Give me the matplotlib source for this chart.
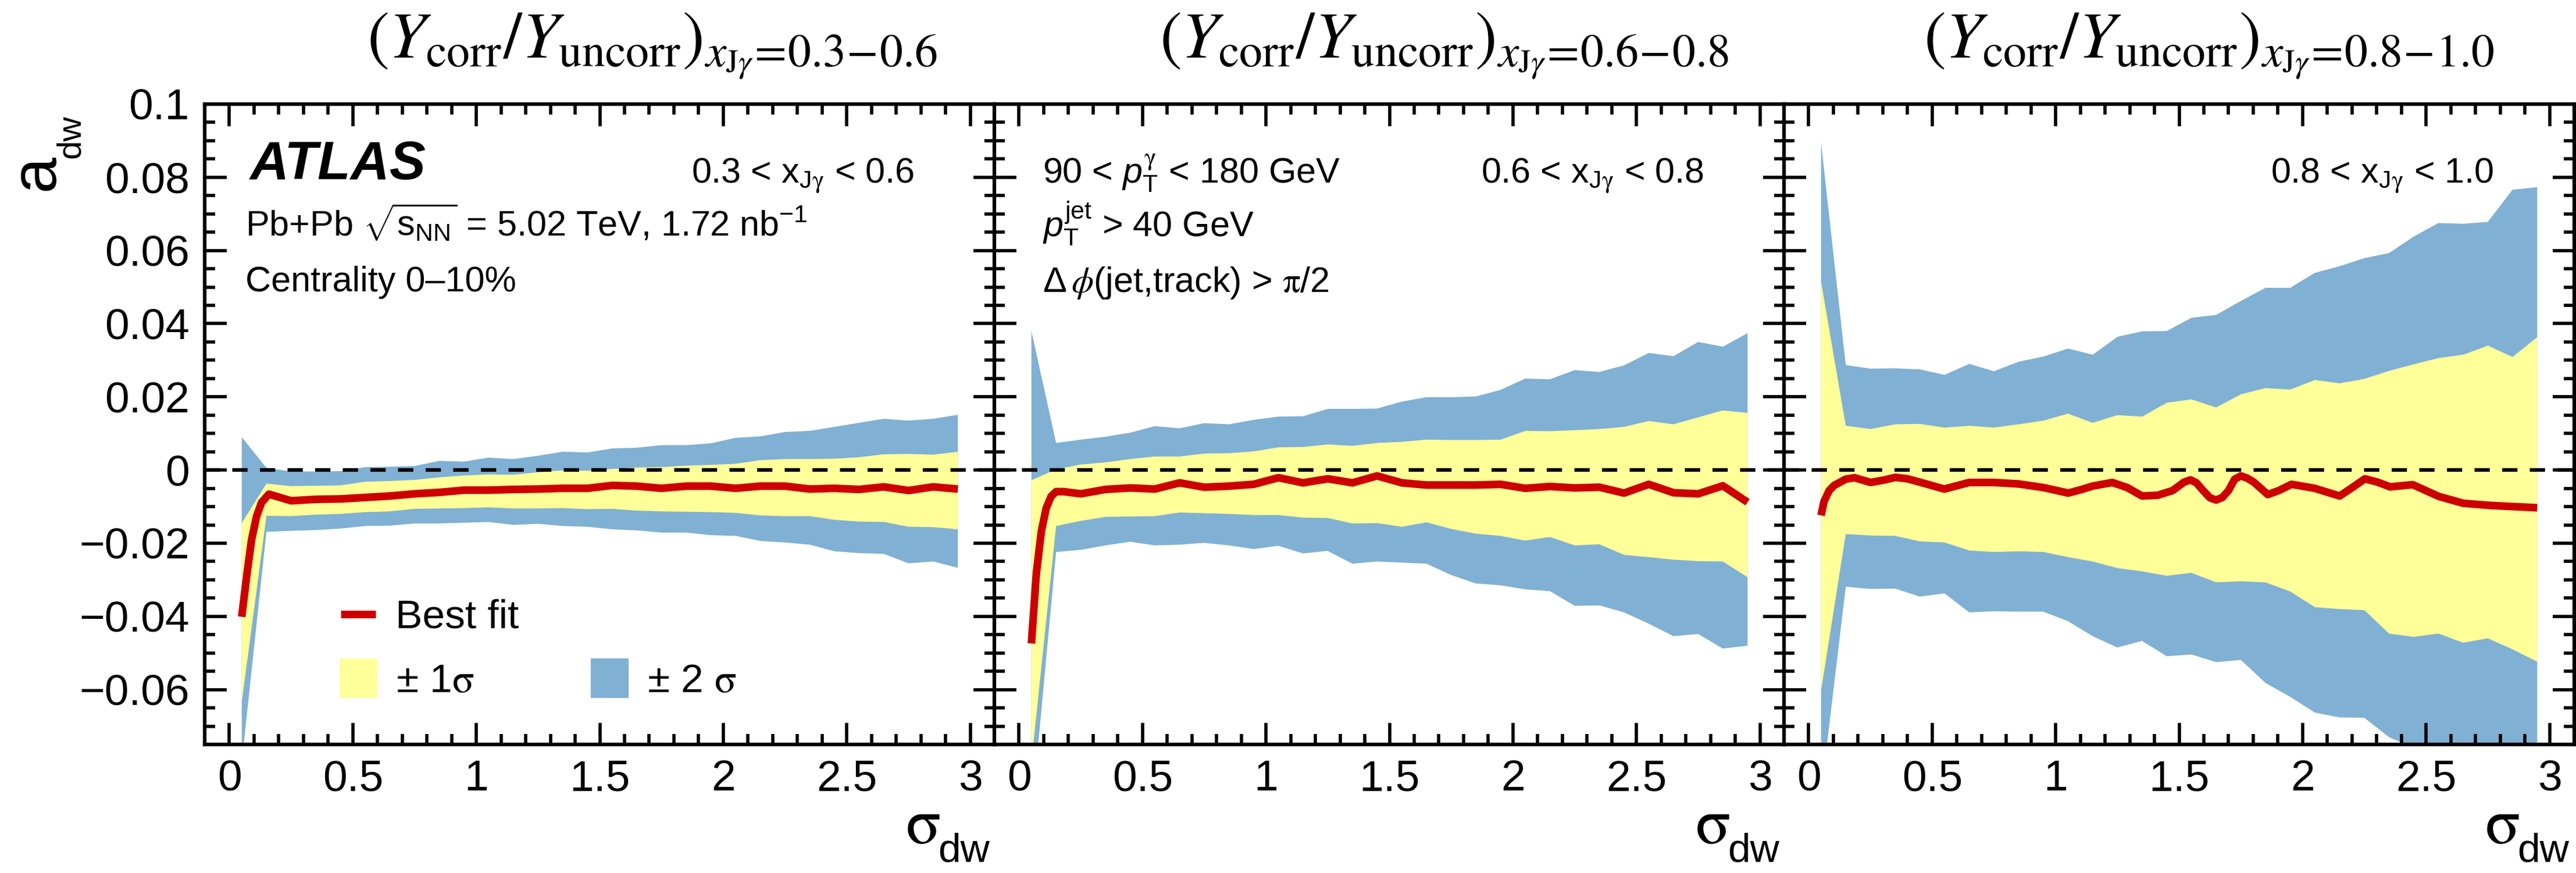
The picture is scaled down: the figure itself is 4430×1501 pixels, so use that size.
import numpy as np
import matplotlib
matplotlib.use('Agg')
import matplotlib.pyplot as plt
from matplotlib.ticker import FixedLocator, FixedFormatter, MultipleLocator

plt.rcParams['font.family'] = ['Liberation Sans', 'DejaVu Sans']
plt.rcParams['mathtext.fontset'] = 'custom'
plt.rcParams['mathtext.rm'] = 'Liberation Sans'
plt.rcParams['mathtext.it'] = 'Liberation Sans:italic'
plt.rcParams['mathtext.bf'] = 'Liberation Sans:bold'
plt.rcParams['mathtext.cal'] = 'STIXGeneral'
plt.rcParams['mathtext.tt'] = 'STIXGeneral:italic'

# ---------------- data ----------------
x_nodes = [0.05, 0.15, 0.25, 0.35, 0.45, 0.55, 0.65, 0.75, 0.85, 0.95,
           1.05, 1.15, 1.25, 1.35, 1.45, 1.55, 1.65, 1.75, 1.85, 1.95,
           2.05, 2.15, 2.25, 2.35, 2.45, 2.55, 2.65, 2.75, 2.85, 2.95]

# panel 1 : 0.3 < xJg < 0.6
p1_hi2 = [0.0090, 0.0006, -0.0004, -0.0004, -0.0003, 0.0008, 0.0009, 0.0011, 0.0025, 0.0023,
          0.0034, 0.0030, 0.0039, 0.0050, 0.0048, 0.0059, 0.0061, 0.0068, 0.0068, 0.0073,
          0.0088, 0.0092, 0.0104, 0.0107, 0.0118, 0.0129, 0.0140, 0.0135, 0.0140, 0.0151]
p1_hi1 = [-0.0145, -0.0037, -0.0044, -0.0043, -0.0042, -0.0032, -0.0030, -0.0027, -0.0020, -0.0015,
          -0.0012, -0.0013, -0.0006, -0.0001, -0.0002, 0.0003, 0.0007, 0.0008, 0.0012, 0.0014,
          0.0017, 0.0027, 0.0030, 0.0030, 0.0031, 0.0035, 0.0043, 0.0044, 0.0042, 0.0050]
p1_lo1 = [-0.0635, -0.0125, -0.0126, -0.0122, -0.0120, -0.0115, -0.0113, -0.0106, -0.0105, -0.0104,
          -0.0102, -0.0105, -0.0105, -0.0104, -0.0107, -0.0106, -0.0111, -0.0113, -0.0114, -0.0115,
          -0.0117, -0.0124, -0.0126, -0.0126, -0.0136, -0.0141, -0.0142, -0.0155, -0.0156, -0.0162]
p1_lo2 = [-0.0800, -0.0169, -0.0166, -0.0164, -0.0160, -0.0153, -0.0152, -0.0146, -0.0146, -0.0144,
          -0.0142, -0.0150, -0.0147, -0.0153, -0.0155, -0.0162, -0.0165, -0.0171, -0.0171, -0.0178,
          -0.0180, -0.0194, -0.0198, -0.0204, -0.0222, -0.0227, -0.0229, -0.0255, -0.0250, -0.0267]
p1_fit_x = [0.05, 0.07, 0.09, 0.11, 0.13, 0.16, 0.25, 0.35, 0.45, 0.55, 0.65, 0.75, 0.85, 0.95,
            1.05, 1.15, 1.25, 1.35, 1.45, 1.55, 1.65, 1.75, 1.85, 1.95, 2.05, 2.15, 2.25, 2.35,
            2.45, 2.55, 2.65, 2.75, 2.85, 2.95]
p1_fit_y = [-0.0401, -0.0290, -0.0190, -0.0127, -0.0089, -0.0066, -0.0084, -0.0080, -0.0079, -0.0075,
            -0.0071, -0.0065, -0.0061, -0.0055, -0.0055, -0.0053, -0.0052, -0.0050, -0.0050, -0.0042,
            -0.0044, -0.0050, -0.0044, -0.0044, -0.0050, -0.0044, -0.0044, -0.0052, -0.0050, -0.0053,
            -0.0046, -0.0056, -0.0046, -0.0052]

# panel 2 : 0.6 < xJg < 0.8
p2_hi2 = [0.0380, 0.0074, 0.0083, 0.0091, 0.0102, 0.0120, 0.0114, 0.0128, 0.0125, 0.0137,
          0.0146, 0.0147, 0.0167, 0.0167, 0.0168, 0.0187, 0.0199, 0.0199, 0.0201, 0.0219,
          0.0250, 0.0248, 0.0273, 0.0268, 0.0286, 0.0320, 0.0311, 0.0350, 0.0337, 0.0374]
p2_hi1 = [-0.0028, 0.0002, 0.0015, 0.0021, 0.0030, 0.0037, 0.0037, 0.0045, 0.0046, 0.0051,
          0.0062, 0.0063, 0.0070, 0.0066, 0.0074, 0.0077, 0.0083, 0.0082, 0.0082, 0.0083,
          0.0107, 0.0106, 0.0109, 0.0112, 0.0118, 0.0134, 0.0125, 0.0144, 0.0163, 0.0156]
p2_lo1 = [-0.0800, -0.0153, -0.0139, -0.0128, -0.0127, -0.0126, -0.0116, -0.0118, -0.0120, -0.0123,
          -0.0123, -0.0130, -0.0131, -0.0146, -0.0145, -0.0155, -0.0143, -0.0161, -0.0174, -0.0180,
          -0.0193, -0.0183, -0.0206, -0.0203, -0.0232, -0.0238, -0.0245, -0.0249, -0.0250, -0.0293]
p2_lo2 = [-0.0950, -0.0224, -0.0218, -0.0206, -0.0196, -0.0206, -0.0204, -0.0199, -0.0206, -0.0216,
          -0.0207, -0.0228, -0.0221, -0.0256, -0.0250, -0.0253, -0.0256, -0.0287, -0.0310, -0.0315,
          -0.0326, -0.0331, -0.0371, -0.0370, -0.0389, -0.0420, -0.0454, -0.0448, -0.0488, -0.0480]
p2_fit_x = [0.05, 0.07, 0.09, 0.11, 0.13, 0.15, 0.18, 0.25, 0.35, 0.45, 0.55, 0.65, 0.75, 0.85,
            0.95, 1.05, 1.15, 1.25, 1.35, 1.45, 1.55, 1.65, 1.75, 1.85, 1.95, 2.05, 2.15, 2.25,
            2.35, 2.45, 2.55, 2.65, 2.75, 2.85, 2.95]
p2_fit_y = [-0.0474, -0.0283, -0.0169, -0.0104, -0.0072, -0.0059, -0.0059, -0.0065, -0.0053, -0.0049,
            -0.0052, -0.0035, -0.0047, -0.0044, -0.0039, -0.0021, -0.0035, -0.0024, -0.0035, -0.0016,
            -0.0035, -0.0041, -0.0041, -0.0041, -0.0039, -0.0050, -0.0045, -0.0049, -0.0047, -0.0063,
            -0.0039, -0.0062, -0.0065, -0.0043, -0.0088]

# panel 3 : 0.8 < xJg < 1.0
p3_hi2 = [0.0895, 0.0287, 0.0277, 0.0278, 0.0275, 0.0260, 0.0290, 0.0270, 0.0296, 0.0310,
          0.0332, 0.0315, 0.0364, 0.0379, 0.0380, 0.0416, 0.0424, 0.0462, 0.0498, 0.0498,
          0.0539, 0.0557, 0.0579, 0.0593, 0.0638, 0.0675, 0.0673, 0.0678, 0.0766, 0.0773]
p3_hi1 = [0.0515, 0.0121, 0.0112, 0.0125, 0.0126, 0.0116, 0.0121, 0.0116, 0.0125, 0.0135,
          0.0154, 0.0129, 0.0150, 0.0146, 0.0184, 0.0193, 0.0171, 0.0207, 0.0224, 0.0220,
          0.0246, 0.0237, 0.0249, 0.0271, 0.0289, 0.0306, 0.0315, 0.0340, 0.0309, 0.0363]
p3_lo1 = [-0.0604, -0.0175, -0.0179, -0.0180, -0.0195, -0.0198, -0.0220, -0.0224, -0.0222, -0.0224,
          -0.0238, -0.0250, -0.0268, -0.0277, -0.0289, -0.0281, -0.0307, -0.0304, -0.0307, -0.0332,
          -0.0375, -0.0380, -0.0383, -0.0447, -0.0456, -0.0447, -0.0472, -0.0460, -0.0490, -0.0524]
p3_lo2 = [-0.0886, -0.0319, -0.0325, -0.0324, -0.0346, -0.0337, -0.0389, -0.0386, -0.0387, -0.0387,
          -0.0413, -0.0454, -0.0485, -0.0467, -0.0509, -0.0504, -0.0525, -0.0519, -0.0582, -0.0620,
          -0.0663, -0.0676, -0.0677, -0.0730, -0.0760, -0.0780, -0.0800, -0.0820, -0.0840, -0.0860]
p3_fit_x = [0.050, 0.062, 0.083, 0.103, 0.150, 0.185, 0.251, 0.308, 0.351, 0.400, 0.449, 0.549,
            0.594, 0.650, 0.750, 0.850, 0.951, 1.051, 1.106, 1.149, 1.229, 1.290, 1.350, 1.413,
            1.474, 1.520, 1.546, 1.570, 1.597, 1.625, 1.650, 1.675, 1.700, 1.725, 1.750, 1.775,
            1.802, 1.859, 1.904, 1.955, 2.049, 2.150, 2.201, 2.252, 2.303, 2.354, 2.446, 2.551,
            2.651, 2.764, 2.950]
p3_fit_y = [-0.0124, -0.0086, -0.0056, -0.0042, -0.0025, -0.0021, -0.0034, -0.0027, -0.0020, -0.0024,
            -0.0033, -0.0052, -0.0044, -0.0034, -0.0034, -0.0038, -0.0048, -0.0063, -0.0053, -0.0044,
            -0.0034, -0.0048, -0.0071, -0.0069, -0.0056, -0.0033, -0.0027, -0.0035, -0.0056, -0.0076,
            -0.0082, -0.0075, -0.0056, -0.0025, -0.0016, -0.0022, -0.0033, -0.0067, -0.0056, -0.0039,
            -0.0050, -0.0071, -0.0048, -0.0024, -0.0033, -0.0046, -0.0040, -0.0072, -0.0091, -0.0097,
            -0.0103]

range_labels = [r'0.3 < $\mathrm{x}_{\mathrm{J}\mathcal{\gamma}}$ < 0.6',
                r'0.6 < $\mathrm{x}_{\mathrm{J}\mathcal{\gamma}}$ < 0.8',
                r'0.8 < $\mathrm{x}_{\mathrm{J}\mathcal{\gamma}}$ < 1.0']
titles = [r'$(Y_{\mathrm{corr}}/Y_{\mathrm{uncorr}})_{x_{\mathrm{J}\gamma}\!=\!0.3\!-\!0.6}$',
          r'$(Y_{\mathrm{corr}}/Y_{\mathrm{uncorr}})_{x_{\mathrm{J}\gamma}\!=\!0.6\!-\!0.8}$',
          r'$(Y_{\mathrm{corr}}/Y_{\mathrm{uncorr}})_{x_{\mathrm{J}\gamma}\!=\!0.8\!-\!1.0}$']

xtick_vals = [0, 0.5, 1, 1.5, 2, 2.5, 3]
xtick_labels = ['0', '0.5', '1', '1.5', '2', '2.5', '3']
ytick_vals = [-0.06, -0.04, -0.02, 0, 0.02, 0.04, 0.06, 0.08, 0.1]
ytick_labels = ['\u22120.06', '\u22120.04', '\u22120.02', '0', '0.02', '0.04', '0.06', '0.08', '0.1']

panels = [
    (p1_hi2, p1_hi1, p1_lo1, p1_lo2, p1_fit_x, p1_fit_y),
    (p2_hi2, p2_hi1, p2_lo1, p2_lo2, p2_fit_x, p2_fit_y),
    (p3_hi2, p3_hi1, p3_lo1, p3_lo2, p3_fit_x, p3_fit_y),
]

YELLOW = '#FFFF99'
BLUE = '#80B0D3'
RED = '#CC0000'

# ---------------- layout ----------------
W, H = 4430, 1501
fig = plt.figure(figsize=(W / 100, H / 100), dpi=100)

def fx(px):
    return px / W

def fy(py):
    return 1 - py / H

lefts = [352, 1710, 3068]
pw = 1359
top, bot = 179, 1280
title_x = [631, 1994, 3308]

axes = []
handles = {}
for i, (hi2, hi1, lo1, lo2, fxs, fys) in enumerate(panels):
    l = lefts[i]
    ax = fig.add_axes([fx(l), fy(bot), pw / W, (bot - top) / H])
    axes.append(ax)
    b = ax.fill_between(x_nodes, lo2, hi2, facecolor=BLUE, edgecolor='none', linewidth=0, zorder=1)
    y = ax.fill_between(x_nodes, lo1, hi1, facecolor=YELLOW, edgecolor='none', linewidth=0, zorder=1.1)
    ax.axhline(0, color='black', lw=4.5, ls=(0, (4.2, 3.4)), zorder=2)
    ln, = ax.plot(fxs, fys, color=RED, lw=9.5, solid_joinstyle='round', solid_capstyle='butt', zorder=3)
    if i == 0:
        handles = dict(line=ln, yel=y, blue=b)

    ax.set_xlim(-0.1, 3.1)
    ax.set_ylim(-0.075, 0.1)
    ax.xaxis.set_major_locator(FixedLocator(xtick_vals))
    ax.xaxis.set_major_formatter(FixedFormatter(xtick_labels))
    ax.xaxis.set_minor_locator(MultipleLocator(0.1))
    ax.yaxis.set_major_locator(FixedLocator(ytick_vals))
    ax.yaxis.set_major_formatter(FixedFormatter(ytick_labels))
    ax.yaxis.set_minor_locator(MultipleLocator(0.005))
    ax.tick_params(which='both', direction='in', top=True, right=True, width=4, colors='black')
    ax.tick_params(which='major', length=27)
    ax.tick_params(which='minor', length=13)
    ax.tick_params(axis='x', which='major', labelsize=54, pad=18)
    ax.tick_params(axis='y', which='major', labelsize=54, pad=19, labelleft=(i == 0))
    for s in ax.spines.values():
        s.set_linewidth(4.5)
        s.set_zorder(5)

    # range label
    fig.text(fx(l + 837), fy(314), range_labels[i], fontsize=44, ha='left', va='baseline')
    # title
    fig.text(fx(title_x[i]), fy(101), titles[i], fontsize=82, ha='left', va='baseline',
             math_fontfamily='stix')
    # x axis label: sigma_dw
    fig.text(fx(l + pw - 94), fy(1450), r'$\mathcal{\sigma}$', fontsize=80,
             ha='right', va='baseline')
    fig.text(fx(l + pw - 9), fy(1482), 'dw', fontsize=50, ha='right', va='baseline')

# y axis label (a_dw)
fig.text(fx(92), fy(328), 'a', fontsize=80, rotation=90, rotation_mode='anchor',
         ha='left', va='baseline')
fig.text(fx(137), fy(272), 'dw', fontsize=42, rotation=90, rotation_mode='anchor',
         ha='left', va='baseline')

# panel 1 texts
fig.text(fx(430), fy(308), 'ATLAS', fontsize=67, fontweight='bold', fontstyle='italic',
         ha='left', va='baseline')
fig.text(fx(422), fy(405), r'Pb+Pb $\sqrt{\mathrm{s}_{\mathrm{NN}}}$ = 5.02 TeV, 1.72 nb$^{-1}$',
         fontsize=44, ha='left', va='baseline')
fig.text(fx(422), fy(501), 'Centrality 0\u201310%', fontsize=44, ha='left', va='baseline')

# panel 2 texts
fig.text(fx(1793), fy(315), r'90 < $p_{\mathrm{T}}^{\mathcal{\gamma}}$ < 180 GeV', fontsize=44,
         ha='left', va='baseline')
fig.text(fx(1793), fy(407), r'$p_{\mathrm{T}}^{\mathrm{jet}}$ > 40 GeV', fontsize=44,
         ha='left', va='baseline')
fig.text(fx(1793), fy(502), r'$\Delta\,\mathtt{\phi}$(jet,track) > $\mathcal{\pi}$/2', fontsize=44,
         ha='left', va='baseline')

# legend
ax1 = axes[0]
hgt = bot - top
leg1 = ax1.legend([handles['line']], ['Best fit'], loc='center left',
                  bbox_to_anchor=((586 - 352) / pw, (bot - 1062) / hgt),
                  frameon=False, fontsize=50, handlelength=0.86, handletextpad=0.5,
                  borderpad=0, borderaxespad=0)
ax1.add_artist(leg1)
leg2 = ax1.legend([handles['yel'], handles['blue']],
                  ['\u00b1 1$\\mathcal{\\sigma}$', '\u00b1 2 $\\mathcal{\\sigma}$'],
                  ncol=2, loc='center left',
                  bbox_to_anchor=((584 - 352) / pw, (bot - 1168) / hgt),
                  frameon=False, fontsize=50, handlelength=0.94, handleheight=1.11,
                  handletextpad=0.45, columnspacing=2.9, borderpad=0, borderaxespad=0)

fig.savefig('out.png', dpi=100)
